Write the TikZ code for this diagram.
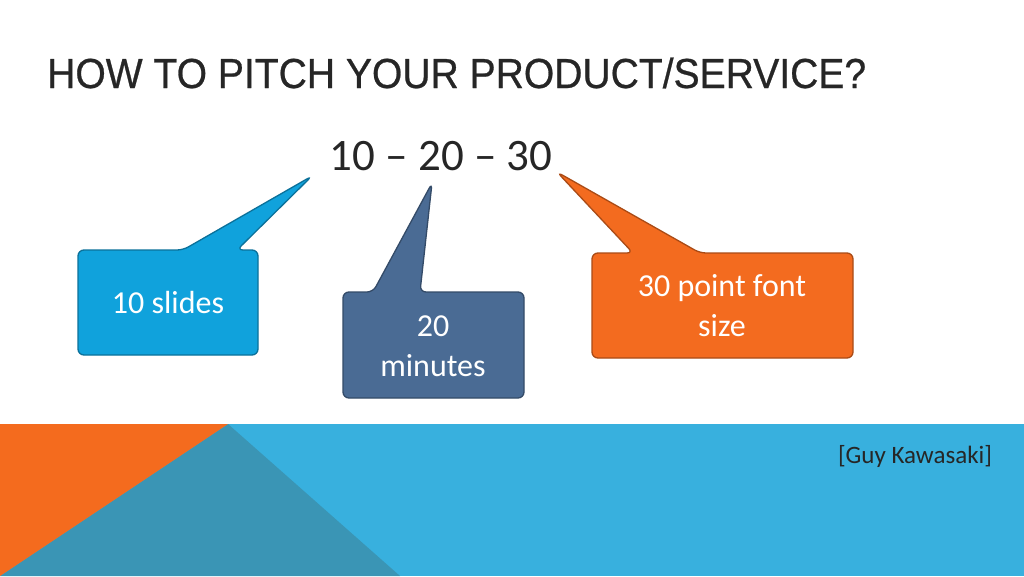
\documentclass[tikz,border=0pt]{standalone}
\usepackage{fontspec}
\setmainfont{Carlito}
\newfontfamily\titlefont[FakeStretch=0.93,FakeBold=0.6]{Liberation Sans}
\definecolor{orng}{HTML}{F46B1E}
\definecolor{teal}{HTML}{3A95B5}
\definecolor{lblue}{HTML}{38B0DE}
\definecolor{cblue}{HTML}{10A2DC}
\definecolor{cdark}{HTML}{4A6B94}
\definecolor{corng}{HTML}{F36B1F}
\begin{document}
\begin{tikzpicture}[x=1pt,y=-1pt,
  callout/.style={rounded corners=6pt,line width=1.3pt},
  ctext/.style={text=white,font=\fontsize{32}{40}\selectfont,align=center}]
\useasboundingbox (0,0) rectangle (1024,576);
\fill[white] (0,0) rectangle (1024,576);
% bottom band
\fill[lblue] (0,424) rectangle (1024,576);
\fill[teal] (0,576) -- (228,424) -- (400,576) -- cycle;
\fill[orng] (0,424) -- (228,424) -- (0,576) -- cycle;
% title
\node[anchor=base west,inner sep=0,font=\titlefont\fontsize{42}{48}\selectfont,text=black!85] (title) at (47,88) {HOW TO PITCH YOUR PRODUCT/SERVICE?};
\node[anchor=base,inner sep=0,font=\fontsize{45}{52}\selectfont,text=black!85] (main) at (441,170) {10 -- 20 -- 30};
% callout 1
\draw[callout,fill=cblue,draw=cblue!70!black] (78,250) -- (183,250) -- (312,176) -- (237,250) -- (258,250) -- (258,355) -- (78,355) -- cycle;
\node[ctext] (t1) at (168,303) {10 slides};
% callout 2
\draw[callout,fill=cdark,draw=cdark!70!black] (343,292) -- (373,292) -- (432,183) -- (420,292) -- (524,292) -- (524,398) -- (343,398) -- cycle;
\node[ctext] (t2) at (433,346) {20\\minutes};
% callout 3
\draw[callout,fill=corng,draw=corng!70!black] (592,253) -- (633,253) -- (557,172) -- (700,253) -- (853,253) -- (853,358) -- (592,358) -- cycle;
\node[ctext] (t3) at (722,306) {30 point font\\size};
\node[anchor=base,font=\fontsize{25}{30}\selectfont,text=black!85] (cite) at (915,463) {[Guy Kawasaki]};
\end{tikzpicture}
\end{document}
